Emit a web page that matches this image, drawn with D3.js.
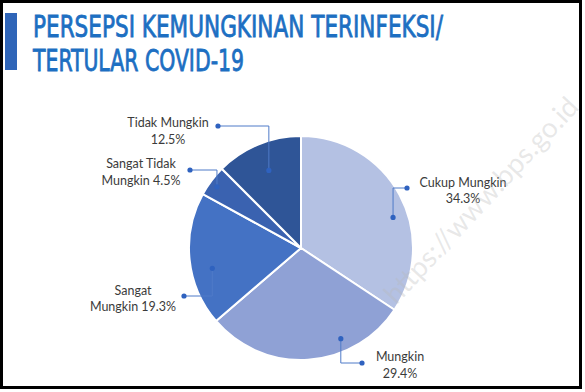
<!DOCTYPE html>
<html>
<head>
<meta charset="utf-8">
<script src="https://d3js.org/d3.v7.min.js"></script>
<style>
  body{ margin:0; background:#fff; }
  .lbl{ font-family: Lato, "Open Sans", sans-serif; font-size:12.5px; fill:#3b3b3b; }
  .ttl{ font-family: "Liberation Sans Narrow", "DejaVu Sans Condensed", sans-serif; font-stretch:condensed; fill:#1d6fc2; stroke:#1d6fc2; stroke-width:0.8px; }
</style>
</head>
<body>
<div id="chart"></div>
<script>
// data
var categories = ["Cukup Mungkin", "Mungkin", "Sangat Mungkin", "Sangat Tidak Mungkin", "Tidak Mungkin"];
var percents   = [34.3, 29.4, 19.3, 4.5, 12.5];
var colors     = ["#b4c1e3", "#8fa1d5", "#4472c4", "#3a62b0", "#2f5597"];
// label text lines (as printed)
var labelLines = [
  ["Cukup Mungkin", "34.3%"],
  ["Mungkin", "29.4%"],
  ["Sangat", "Mungkin 19.3%"],
  ["Sangat Tidak", "Mungkin 4.5%"],
  ["Tidak Mungkin", "12.5%"]
];
// leader layout: inner dot at fraction of slice angle / radius, outer dot and label anchor relative to centre
var leaderLayout = [
  {frac:0.58, r:97,  out:[106,-60],  text:[162,-61],  gap:15.5},
  {frac:0.31, r:99,  out:[61,115],   text:[99,113],   gap:17},
  {frac:0.40, r:91,  out:[-117,48],  text:[-168,47],  gap:15.5},
  {frac:0.45, r:104, out:[-111,-78], text:[-160,-80], gap:17},
  {frac:0.50, r:84,  out:[-83,-122], text:[-133,-121],gap:16.5}
];

var W = 585, H = 392;
var cx = 301, cy = 248, R = 112;

var svg = d3.select("#chart").append("svg")
  .attr("width", W).attr("height", H);

// frame
svg.append("rect").attr("x",1.5).attr("y",1.5).attr("width",579).attr("height",386)
  .attr("fill","#fff").attr("stroke","#000").attr("stroke-width",3);

// title
svg.append("rect").attr("x",5).attr("y",13).attr("width",12).attr("height",57).attr("fill","#2f65b8");
svg.append("text").attr("class","ttl").attr("x",33).attr("y",37)
  .attr("font-size",30).attr("textLength",410).attr("lengthAdjust","spacingAndGlyphs")
  .text("PERSEPSI KEMUNGKINAN TERINFEKSI/");
svg.append("text").attr("class","ttl").attr("x",33).attr("y",71)
  .attr("font-size",30).attr("textLength",211).attr("lengthAdjust","spacingAndGlyphs")
  .text("TERTULAR COVID-19");

var data = categories.map(function(c,i){ return {cat:c, val:percents[i], color:colors[i], lines:labelLines[i], lay:leaderLayout[i]}; });

var pie = d3.pie().sort(null).value(function(d){ return d.val; });
var arc = d3.arc().innerRadius(0).outerRadius(R);
var arcs = pie(data);

var g = svg.append("g").attr("transform","translate("+cx+","+cy+")");

g.selectAll("path.slice").data(arcs).enter().append("path")
  .attr("class","slice")
  .attr("d", arc)
  .attr("fill", function(d){ return d.data.color; })
  .attr("stroke","#fff").attr("stroke-width",2).attr("stroke-linejoin","round");

// watermark
svg.append("text")
  .attr("transform","translate(483,202) rotate(-47)")
  .attr("text-anchor","middle").attr("dominant-baseline","middle")
  .attr("font-family","Lato, 'Open Sans', sans-serif").attr("font-size",28)
  .attr("fill","#b8b8b8").attr("fill-opacity",0.32)
  .text("https://www.bps.go.id");

// leader lines
function innerPoint(d){
  var a = d.startAngle + d.data.lay.frac*(d.endAngle - d.startAngle);
  var r = d.data.lay.r;
  return [r*Math.sin(a), -r*Math.cos(a)];
}
var leaders = g.selectAll("g.leader").data(arcs).enter().append("g").attr("class","leader");
leaders.append("path")
  .attr("fill","none").attr("stroke","#4f7bc8").attr("stroke-width",1)
  .attr("d", function(d){
    var p = innerPoint(d), o = d.data.lay.out;
    return d3.line()([p, [p[0], o[1]], o]);
  });
leaders.append("circle").attr("r",2.6).attr("fill","#2f62bf")
  .attr("cx", function(d){ return innerPoint(d)[0]; })
  .attr("cy", function(d){ return innerPoint(d)[1]; });
leaders.append("circle").attr("r",2.6).attr("fill","#2f62bf")
  .attr("cx", function(d){ return d.data.lay.out[0]; })
  .attr("cy", function(d){ return d.data.lay.out[1]; });

// labels
var lbl = g.selectAll("text.lbl").data(arcs).enter().append("text")
  .attr("class","lbl").attr("text-anchor","middle")
  .attr("transform", function(d){ return "translate("+d.data.lay.text[0]+","+d.data.lay.text[1]+")"; });
lbl.selectAll("tspan").data(function(d){ return d.data.lines.map(function(t){ return {t:t, gap:d.data.lay.gap}; }); })
  .enter().append("tspan")
  .attr("x",0).attr("dy", function(d,i){ return i ? d.gap : 0; })
  .text(function(d){ return d.t; });
</script>
</body>
</html>
